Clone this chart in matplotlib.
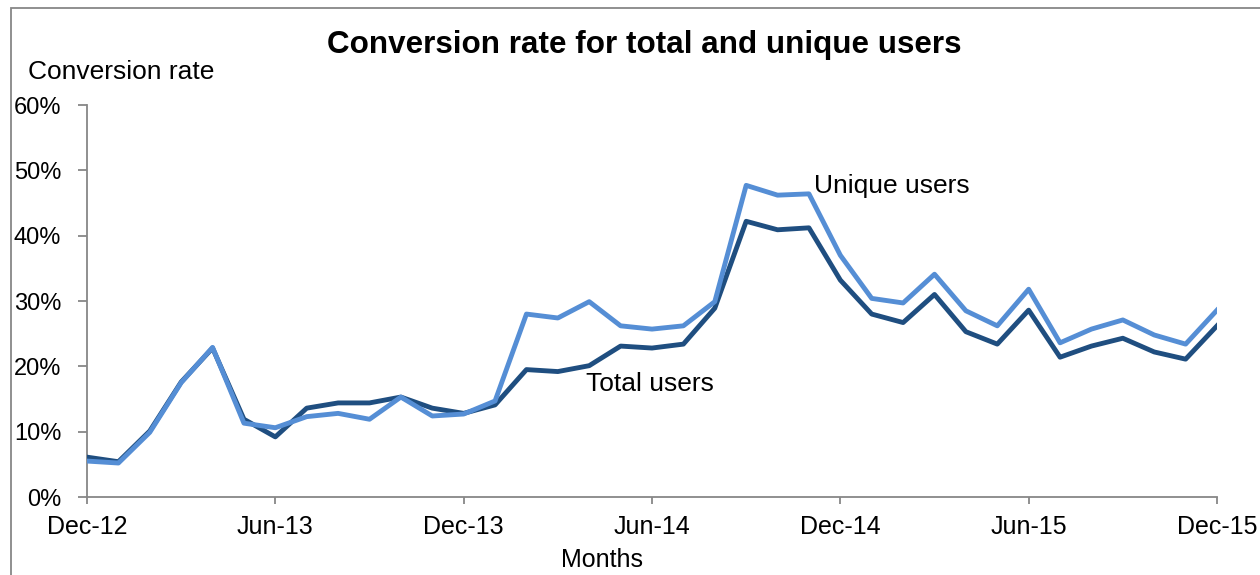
import matplotlib
matplotlib.use("Agg")
import matplotlib.pyplot as plt
from matplotlib.patches import Rectangle
from matplotlib.ticker import FuncFormatter

plt.rcParams['font.family'] = ['Liberation Sans', 'DejaVu Sans']

# Monthly conversion rates, Dec-12 .. Dec-15 (in %)
months = ["Dec-12", "Jan-13", "Feb-13", "Mar-13", "Apr-13", "May-13", "Jun-13",
          "Jul-13", "Aug-13", "Sep-13", "Oct-13", "Nov-13", "Dec-13",
          "Jan-14", "Feb-14", "Mar-14", "Apr-14", "May-14", "Jun-14",
          "Jul-14", "Aug-14", "Sep-14", "Oct-14", "Nov-14", "Dec-14",
          "Jan-15", "Feb-15", "Mar-15", "Apr-15", "May-15", "Jun-15",
          "Jul-15", "Aug-15", "Sep-15", "Oct-15", "Nov-15", "Dec-15"]

total_users = [6.1, 5.4, 10.1, 17.6, 22.8, 11.9, 9.2, 13.6, 14.4, 14.4, 15.3, 13.6, 12.8,
               14.1, 19.5, 19.2, 20.1, 23.1, 22.8, 23.4, 28.9, 42.2, 40.9, 41.2, 33.2,
               28.0, 26.7, 31.0, 25.3, 23.4, 28.6, 21.4, 23.1, 24.3, 22.2, 21.1, 26.2]

unique_users = [5.5, 5.2, 9.9, 17.5, 22.9, 11.3, 10.6, 12.3, 12.8, 11.9, 15.3, 12.4, 12.7,
                14.7, 28.0, 27.4, 29.9, 26.2, 25.7, 26.2, 29.9, 47.7, 46.2, 46.4, 37.0,
                30.4, 29.7, 34.1, 28.5, 26.2, 31.8, 23.6, 25.7, 27.1, 24.8, 23.4, 28.6]

tick_labels = ["Dec-12", "Jun-13", "Dec-13", "Jun-14", "Dec-14", "Jun-15", "Dec-15"]
y_ticks = [0, 10, 20, 30, 40, 50, 60]

dark_blue = "#1F4E80"
light_blue = "#558ED5"
axis_grey = "#878787"

fig = plt.figure(figsize=(12.6, 5.75), dpi=100)
ax = fig.add_axes([87 / 1260, 1 - 497 / 575, (1217 - 87) / 1260, (497 - 105) / 575])

x = list(range(len(months)))
ax.plot(x, total_users, color=dark_blue, lw=3.5, solid_joinstyle='round', zorder=3)
ax.plot(x, unique_users, color=light_blue, lw=3.5, solid_joinstyle='round', zorder=4)

ax.set_xlim(0, len(months) - 1)
ax.set_ylim(0, 60)
ax.set_xticks([months.index(m) for m in tick_labels])
ax.set_xticklabels(tick_labels)
ax.set_yticks(y_ticks)
ax.yaxis.set_major_formatter(FuncFormatter(lambda v, _: f"{v:.0f}%"))

for side in ("top", "right"):
    ax.spines[side].set_visible(False)
for side in ("left", "bottom"):
    ax.spines[side].set_color(axis_grey)
    ax.spines[side].set_linewidth(1.3)

ax.tick_params(axis='x', direction='out', length=5, width=1.3, color=axis_grey,
               labelsize=18, pad=8, labelcolor='black')
ax.tick_params(axis='y', direction='out', length=6.5, width=1.3, color=axis_grey,
               labelsize=17, pad=12, labelcolor='black')

ax.set_xlabel("Months", fontsize=18, labelpad=6.5)
ax.xaxis.label.set_x(0.456)

fig.text(644 / 1260, 1 - 45 / 575, "Conversion rate for total and unique users",
         ha='center', va='center', fontsize=22.6, fontweight='bold')
fig.text(28 / 1260, 1 - 72 / 575, "Conversion rate", ha='left', va='center', fontsize=19)

ax.text(23.15, 47.6, "Unique users", ha='left', va='center', fontsize=19)
ax.text(15.9, 17.3, "Total users", ha='left', va='center', fontsize=19)

# Outer frame around the chart area
fig.patches.append(Rectangle((11 / 1260, -0.1), 1.2, 1.1 - 8 / 575,
                             transform=fig.transFigure, fill=False,
                             edgecolor=axis_grey, lw=1.3, clip_on=False))

fig.savefig("out.png", dpi=100)
